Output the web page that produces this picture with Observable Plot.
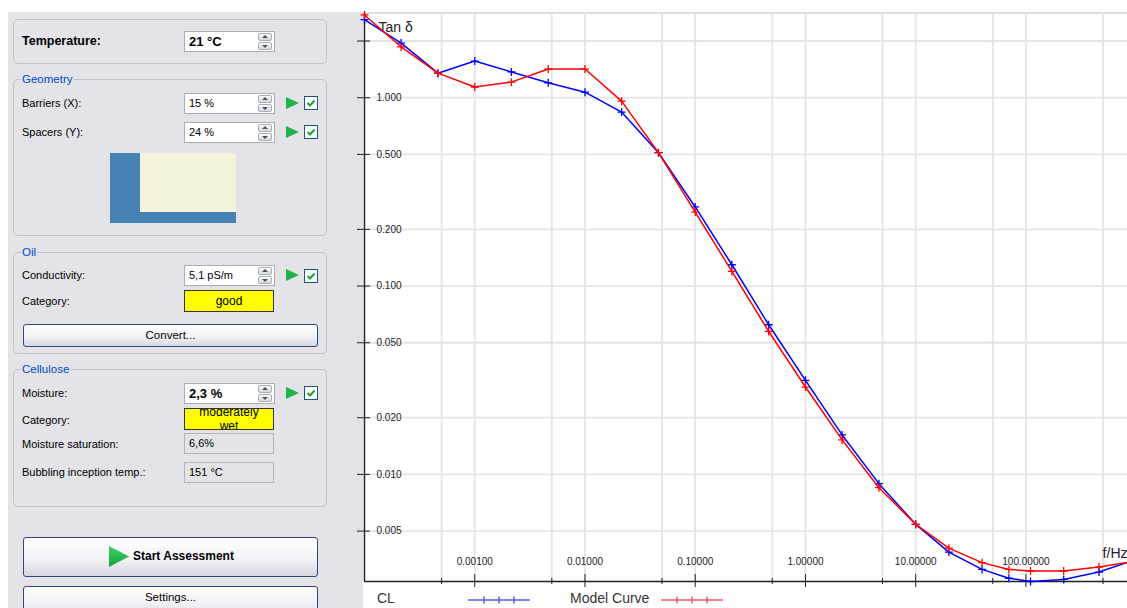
<!DOCTYPE html>
<html><head><meta charset="utf-8">
<script src="https://cdn.jsdelivr.net/npm/d3@7"></script>
<script src="https://cdn.jsdelivr.net/npm/@observablehq/plot@0.6"></script>
<style>
html,body{margin:0;padding:0;background:#fff;width:1127px;height:608px;overflow:hidden;font-family:"Liberation Sans",Arial,sans-serif;position:relative;}
body>div{position:absolute;}
#panel{left:8px;top:12px;width:355px;height:596px;background:#e3e3e8;}
#plotbg{left:363px;top:12px;width:764px;height:596px;background:#fff;border-top:2px solid #dcdce2;box-sizing:border-box;}
.grp{border:1px solid #c2c2c8;border-radius:5px;box-sizing:border-box;left:13px;width:314px;}
.gt{font-size:11.5px;color:#0046d5;background:#e3e3e8;padding:0 1px;line-height:14px;left:21px;}
.lbl{font-size:11px;color:#000;line-height:14px;left:22px;white-space:nowrap;}
.inp{left:184px;width:91px;height:21px;box-sizing:border-box;border:1px solid #a9adb6;background:#fff;font-size:11px;line-height:19px;padding-left:4px;white-space:nowrap;}
.ro{left:184px;width:90px;height:21px;box-sizing:border-box;border:1px solid #b4b4ba;font-size:11px;line-height:19px;padding-left:4px;}
.yel{left:184px;width:90px;height:22px;box-sizing:border-box;border:1px solid #333;background:#ffff00;font-size:11.5px;text-align:center;overflow:hidden;display:flex;align-items:center;justify-content:center;line-height:12.5px;}
.spin{position:absolute;right:2px;top:1px;width:14px;height:17px;}
.su,.sd{position:absolute;left:0;width:14px;height:8px;box-sizing:border-box;border:1px solid #a7acb8;border-radius:2px;background:linear-gradient(#fdfdfd,#d6d8e0);}
.su{top:0}.sd{top:9px}
.su::after{content:"";position:absolute;left:2.5px;top:1px;border-left:3.5px solid transparent;border-right:3.5px solid transparent;border-bottom:3.5px solid #4b4f5c;}
.sd::after{content:"";position:absolute;left:2.5px;top:1.5px;border-left:3.5px solid transparent;border-right:3.5px solid transparent;border-top:3.5px solid #4b4f5c;}
.play{width:0;height:0;left:286px;border-left:13px solid #22b24b;border-top:6.5px solid transparent;border-bottom:6.5px solid transparent;}
.chk{left:304px;width:14px;height:14px;box-sizing:border-box;border:1px solid #1c5180;background:#fff;}
.chk svg{position:absolute;left:0;top:0;}
.btn{left:23px;width:295px;box-sizing:border-box;border:1px solid #2a4a7e;border-radius:3px;background:linear-gradient(#ffffff 0%,#f3f3f7 55%,#d7d8e2 100%);text-align:center;font-size:11.5px;color:#000;}
.leg{font-size:14px;color:#333;line-height:16px;top:590px;}
#chart{left:340px;top:0px;}
</style></head>
<body>
<div id="panel"></div>
<div id="plotbg"></div>

<!-- Temperature -->
<div class="grp" style="top:19px;height:45px"></div>
<div class="lbl" style="top:34px;font-size:12.5px;font-weight:bold">Temperature:</div>
<div class="inp" style="top:31px;font-size:13px;font-weight:bold">21 °C<div class="spin"><div class="su"></div><div class="sd"></div></div></div>

<!-- Geometry -->
<div class="grp" style="top:79px;height:157px"></div>
<div class="gt" style="top:72px">Geometry</div>
<div class="lbl" style="top:96px">Barriers (X):</div>
<div class="inp" style="top:93px">15 %<div class="spin"><div class="su"></div><div class="sd"></div></div></div>
<div class="play" style="top:96.5px"></div>
<div class="chk" style="top:96px"><svg width="12" height="12"><path d="M2.5 6 L5 8.5 L9.5 3.5" stroke="#1fa32a" stroke-width="2" fill="none"/></svg></div>
<div class="lbl" style="top:125px">Spacers (Y):</div>
<div class="inp" style="top:122px">24 %<div class="spin"><div class="su"></div><div class="sd"></div></div></div>
<div class="play" style="top:125.5px"></div>
<div class="chk" style="top:125px"><svg width="12" height="12"><path d="M2.5 6 L5 8.5 L9.5 3.5" stroke="#1fa32a" stroke-width="2" fill="none"/></svg></div>
<div style="left:110px;top:153px;width:126px;height:70px;background:#4682b4"></div>
<div style="left:140px;top:153px;width:96px;height:59px;background:#f4f4dc"></div>

<!-- Oil -->
<div class="grp" style="top:252px;height:102px"></div>
<div class="gt" style="top:245px">Oil</div>
<div class="lbl" style="top:268px">Conductivity:</div>
<div class="inp" style="top:265px">5,1 pS/m<div class="spin"><div class="su"></div><div class="sd"></div></div></div>
<div class="play" style="top:269px"></div>
<div class="chk" style="top:268.5px"><svg width="12" height="12"><path d="M2.5 6 L5 8.5 L9.5 3.5" stroke="#1fa32a" stroke-width="2" fill="none"/></svg></div>
<div class="lbl" style="top:294px">Category:</div>
<div class="yel" style="top:290px;font-size:12px">good</div>
<div class="btn" style="top:324px;height:23px;line-height:21px">Convert...</div>

<!-- Cellulose -->
<div class="grp" style="top:369px;height:138px"></div>
<div class="gt" style="top:362px">Cellulose</div>
<div class="lbl" style="top:386px">Moisture:</div>
<div class="inp" style="top:383px;font-size:13px;font-weight:bold">2,3 %<div class="spin"><div class="su"></div><div class="sd"></div></div></div>
<div class="play" style="top:386.5px"></div>
<div class="chk" style="top:386px"><svg width="12" height="12"><path d="M2.5 6 L5 8.5 L9.5 3.5" stroke="#1fa32a" stroke-width="2" fill="none"/></svg></div>
<div class="lbl" style="top:413px">Category:</div>
<div class="yel" style="top:408px;font-size:12px;line-height:14px"><span>moderately<br>wet</span></div>
<div class="lbl" style="top:437px">Moisture saturation:</div>
<div class="ro" style="top:433px">6,6%</div>
<div class="lbl" style="top:465px">Bubbling inception temp.:</div>
<div class="ro" style="top:462px">151 °C</div>

<!-- Buttons -->
<div class="btn" style="top:537px;height:40px;"></div>
<div style="left:108px;top:545px"><svg width="22" height="23"><defs><linearGradient id="gg" x1="0" y1="0" x2="0" y2="1"><stop offset="0" stop-color="#3fd46a"/><stop offset="1" stop-color="#13a03c"/></linearGradient></defs><polygon points="1,1 21,11.5 1,22" fill="url(#gg)"/></svg></div>
<div style="left:133px;top:549px;font-size:12px;font-weight:bold;line-height:15px;white-space:nowrap">Start Assessment</div>
<div class="btn" style="top:586px;height:30px;line-height:21px">Settings...</div>

<!-- Chart -->
<div id="chart"></div>

<!-- Legend -->
<div class="leg" style="left:377px">CL</div>
<div style="left:466px;top:592px"><svg width="66" height="12"><g stroke="#5a5aff" stroke-width="1.5"><line x1="2" y1="6" x2="64" y2="6"/><line x1="18" y1="2.5" x2="18" y2="9.5"/><line x1="33" y1="2.5" x2="33" y2="9.5"/><line x1="48" y1="2.5" x2="48" y2="9.5"/></g></svg></div>
<div class="leg" style="left:570px">Model Curve</div>
<div style="left:659px;top:592px"><svg width="66" height="12"><g stroke="#ff5a5a" stroke-width="1.5"><line x1="2" y1="6" x2="64" y2="6"/><line x1="18" y1="2.5" x2="18" y2="9.5"/><line x1="33" y1="2.5" x2="33" y2="9.5"/><line x1="48" y1="2.5" x2="48" y2="9.5"/></g></svg></div>

<script>
// Frequencies (Hz)
const freq = [0.0001, 0.000215, 0.000464, 0.001, 0.00215, 0.00464, 0.01, 0.0215, 0.0464, 0.1, 0.215, 0.464, 1, 2.15, 4.64, 10, 20, 40, 70, 110, 220, 460, 1000];
// Measured tan delta (CL)
const clValues = [2.60, 1.95, 1.35, 1.565, 1.37, 1.20, 1.07, 0.839, 0.511, 0.263, 0.1298, 0.0623, 0.0316, 0.0162, 0.00893, 0.00543, 0.00387, 0.00313, 0.00281, 0.0027, 0.00277, 0.00303, 0.00354];
// Model curve tan delta
const modelValues = [2.75, 1.86, 1.35, 1.14, 1.21, 1.42, 1.42, 0.959, 0.511, 0.247, 0.1196, 0.0574, 0.0291, 0.01525, 0.0085, 0.00543, 0.00406, 0.0034, 0.00313, 0.00307, 0.00307, 0.00322, 0.00347];

const yTicks = [2, 1, 0.5, 0.2, 0.1, 0.05, 0.02, 0.01, 0.005];
const yLabels = [1, 0.5, 0.2, 0.1, 0.05, 0.02, 0.01, 0.005];
const xMajor = [0.001, 0.01, 0.1, 1, 10, 100];
const xMinor = [0.0005, 0.005, 0.05, 0.5, 5, 50, 500];
const xDomain = [0.0001, 834];
const yDomain = [0.0027, 2.8];

const cl = freq.map((f, i) => ({f, v: clValues[i]}));
const model = freq.map((f, i) => ({f, v: modelValues[i]}));

const cross = {
  draw(ctx, size) {
    const r = Math.sqrt(size / Math.PI);
    ctx.moveTo(-r, 0); ctx.lineTo(r, 0);
    ctx.moveTo(0, -r); ctx.lineTo(0, r);
  }
};

const chart = Plot.plot({
  width: 787, height: 590,
  marginLeft: 24, marginRight: 0, marginTop: 13, marginBottom: 9,
  style: {background: "transparent", fontFamily: "Liberation Sans, Arial, sans-serif", fontSize: "10px", overflow: "visible", color: "#222"},
  x: {type: "log", domain: xDomain, axis: null},
  y: {type: "log", domain: yDomain, axis: null},
  marks: [
    Plot.gridX([...xMinor, ...xMajor], {stroke: "#e4e4e4", strokeOpacity: 1, strokeWidth: 1.8}),
    Plot.gridY(yTicks, {stroke: "#e4e4e4", strokeOpacity: 1, strokeWidth: 1.8}),
    Plot.ruleX([xDomain[0]], {stroke: "#222", strokeWidth: 1.5}),
    Plot.ruleY([yDomain[0]], {stroke: "#222", strokeWidth: 1.5}),
    Plot.axisY(yTicks, {anchor: "left", tickSize: 13, dx: 6, tickFormat: () => "", label: null, stroke: "#222"}),
    Plot.axisX(xMajor, {anchor: "bottom", tickSize: 13, dy: -7, tickFormat: () => "", label: null, stroke: "#222"}),
    Plot.axisX(xMinor, {anchor: "bottom", tickSize: 6, dy: -3, tickFormat: () => "", label: null, stroke: "#222"}),
    Plot.text(yLabels, {y: d => d, frameAnchor: "left", dx: 12, textAnchor: "start", text: d => d3.format(".3f")(d), fill: "#222"}),
    Plot.text(xMajor, {x: d => d, frameAnchor: "bottom", dy: -20, lineAnchor: "middle", text: d => d3.format(".5f")(d), fill: "#222"}),
    Plot.text(["Tan δ"], {frameAnchor: "top-left", dx: 14, dy: 14.5, lineAnchor: "middle", textAnchor: "start", fontSize: 14, text: d => d, fill: "#222"}),
    Plot.text(["f/Hz"], {frameAnchor: "bottom-right", dy: -28, lineAnchor: "middle", textAnchor: "end", fontSize: 14, text: d => d, fill: "#222"}),
    Plot.line(cl, {x: "f", y: "v", stroke: "#0000ff", strokeWidth: 1.5}),
    Plot.dot(cl, {x: "f", y: "v", symbol: cross, r: 4, stroke: "#0000ff", fill: "none", strokeWidth: 1.3}),
    Plot.line(model, {x: "f", y: "v", stroke: "#ff0000", strokeWidth: 1.5}),
    Plot.dot(model, {x: "f", y: "v", symbol: cross, r: 4, stroke: "#ff0000", fill: "none", strokeWidth: 1.3})
  ]
});
document.getElementById("chart").appendChild(chart);
</script>
</body></html>
